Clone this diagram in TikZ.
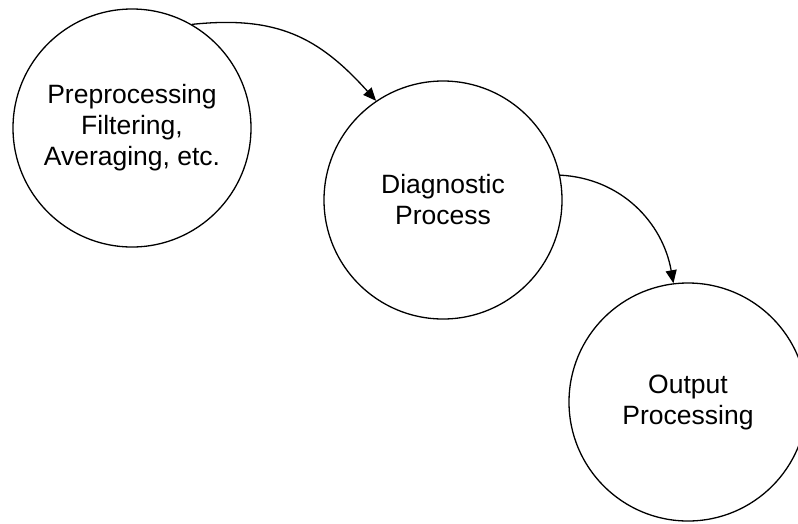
\documentclass[tikz,border=0pt]{standalone}
\usepackage{fontspec}
\setmainfont{Liberation Sans}
\usetikzlibrary{arrows.meta}
\tikzset{
	proc/.style={draw, circle, line width=1.3pt, minimum size=238pt, inner sep=0pt, align=center, font=\fontsize{26.5}{31}\selectfont},
	flow/.style={line width=1.3pt, -{Triangle[length=13pt,width=11pt]}}
}

\begin{document}
\begin{tikzpicture}[x=1pt, y=-1pt]
			%%%%% START %%%%%
			
			\useasboundingbox (0, 0) rectangle (798, 523);
			
			\node[proc] (pre) at (132, 128) {Preprocessing\\Filtering,\\Averaging, etc.};
			\node[proc] (diag) at (443, 200) {Diagnostic\\Process};
			\node[proc] (post) at (688, 402) {Output\\Processing};
			
			\draw[flow] (pre.60) to[out=6, in=132, looseness=1.1] (diag.124);
			\draw[flow] (diag.12) to[out=-3, in=100] (post.97);
			
			%%%%% END %%%%%
		\end{tikzpicture}
\end{document}
